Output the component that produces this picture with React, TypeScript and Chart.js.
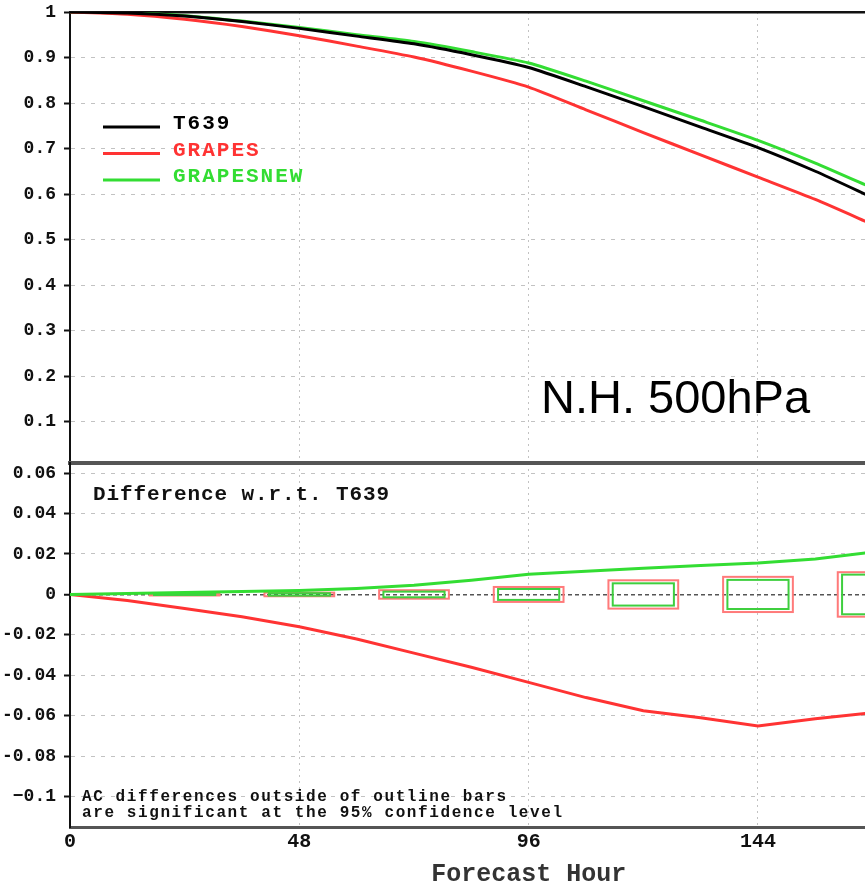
import { useEffect, useRef } from 'react';
import { Chart, registerables } from 'chart.js';

Chart.register(...registerables);

// Forecast lead times (hours)
const hours = [0, 12, 24, 36, 48, 60, 72, 84, 96, 108, 120, 132, 144, 156, 168];

// Anomaly correlation, N.H. 500hPa height
const acT639 = [1.0, 0.998, 0.991, 0.979, 0.964, 0.947, 0.93, 0.906, 0.878, 0.836, 0.792, 0.747, 0.702, 0.65, 0.592];
const acGrapes = [1.0, 0.995, 0.984, 0.968, 0.948, 0.925, 0.901, 0.87, 0.835, 0.785, 0.735, 0.686, 0.637, 0.588, 0.533];
const acGrapesNew = [1.0, 0.998, 0.992, 0.98, 0.966, 0.95, 0.935, 0.913, 0.888, 0.848, 0.805, 0.762, 0.718, 0.668, 0.613];

// Difference with respect to T639
const diffGrapes = [0, -0.003, -0.007, -0.011, -0.016, -0.022, -0.029, -0.036, -0.0435, -0.051, -0.0575, -0.061, -0.065, -0.0615, -0.0585];
const diffGrapesNew = [0, 0.0005, 0.001, 0.0015, 0.002, 0.003, 0.0045, 0.007, 0.01, 0.0115, 0.013, 0.0143, 0.0155, 0.0175, 0.021];

// 95% significance half-ranges (outline bars)
const sigHours = [24, 48, 72, 96, 120, 144, 168];
const sigGrapes = [0.0005, 0.0009, 0.0021, 0.0037, 0.007, 0.0087, 0.011];
const sigGrapesNew = [0.0003, 0.0006, 0.0014, 0.0027, 0.0055, 0.0072, 0.0098];

// Axis ticks
const hourTicks = [0, 48, 96, 144];
const acTicks = [0.1, 0.2, 0.3, 0.4, 0.5, 0.6, 0.7, 0.8, 0.9, 1];
const acTickLabels = ['0.1', '0.2', '0.3', '0.4', '0.5', '0.6', '0.7', '0.8', '0.9', '1'];
const diffTicks = [-0.1, -0.08, -0.06, -0.04, -0.02, 0, 0.02, 0.04, 0.06];
const diffTickLabels = ['\u22120.1', '-0.08', '-0.06', '-0.04', '-0.02', '0', '0.02', '0.04', '0.06'];

const seriesNames = ['T639', 'GRAPES', 'GRAPESNEW'];
const regionLabel = 'N.H. 500hPa';
const diffLabel = 'Difference w.r.t. T639';
const noteLines = ['AC differences outside of outline bars', 'are significant at the 95% confidence level'];
const xTitle = 'Forecast Hour';

const BLACK = '#000000';
const RED = '#ff3333';
const GREEN = '#33dd33';
const MONO = '"Liberation Mono", "DejaVu Sans Mono", monospace';

const X_MAX = 166.4;
const GRID = '#c2c2c2';

const pts = (ys: number[]) => ys.map((y, i) => ({ x: hours[i], y }));

const lineDs = (label: string, data: number[], color: string, tension: number) => ({
  label,
  data: pts(data),
  borderColor: color,
  backgroundColor: color,
  borderWidth: 3,
  pointRadius: 0,
  tension,
  fill: false,
});

const fixedWidth = (w: number) => (scale: any) => {
  scale.width = w;
};
const fixedHeight = (h: number) => (scale: any) => {
  scale.height = h;
};
const setTicks = (vals: number[]) => (scale: any) => {
  scale.ticks = vals.map((v) => ({ value: v }));
};
const labelFor = (vals: number[], labels: string[]) => (value: any) => {
  const i = vals.findIndex((v) => Math.abs(v - value) < 1e-9);
  return i >= 0 ? labels[i] : '';
};

const vGridColor = (ctx: any) => (ctx.tick && ctx.tick.value === 0 ? 'rgba(0,0,0,0)' : GRID);

// Legend, region label
const acTextPlugin = {
  id: 'acText',
  afterDatasetsDraw(chart: any) {
    const { ctx, chartArea: a } = chart;
    ctx.save();
    chart.data.datasets.forEach((ds: any, i: number) => {
      const y = a.top + 115 + i * 26.5;
      ctx.strokeStyle = ds.borderColor;
      ctx.lineWidth = 3;
      ctx.beginPath();
      ctx.moveTo(a.left + 33, y);
      ctx.lineTo(a.left + 90, y);
      ctx.stroke();
      ctx.fillStyle = ds.borderColor;
      ctx.font = `bold 21px ${MONO}`;
      ctx.letterSpacing = '2px';
      ctx.textAlign = 'left';
      ctx.textBaseline = 'middle';
      ctx.fillText(ds.label, a.left + 103, y - 3);
    });
    ctx.letterSpacing = '0px';
    ctx.fillStyle = '#000';
    ctx.font = '47px "Liberation Sans", Arial, sans-serif';
    ctx.textAlign = 'left';
    ctx.textBaseline = 'alphabetic';
    ctx.fillText(regionLabel, a.left + 471, a.top + 401);
    ctx.restore();
  },
};

// Significance outline bars
const sigBoxPlugin = {
  id: 'sigBoxes',
  beforeDatasetsDraw(chart: any) {
    const { ctx, chartArea: a, scales } = chart;
    const x = scales.x;
    const y = scales.y;
    ctx.save();
    ctx.beginPath();
    ctx.rect(a.left, a.top, a.right - a.left, a.bottom - a.top);
    ctx.clip();
    ctx.lineWidth = 2;
    sigHours.forEach((h, i) => {
      const rx0 = x.getPixelForValue(h - 7.3);
      const rx1 = x.getPixelForValue(h + 7.3);
      const ry0 = y.getPixelForValue(sigGrapes[i]);
      const ry1 = y.getPixelForValue(-sigGrapes[i]);
      ctx.strokeStyle = '#ff7a7a';
      ctx.strokeRect(rx0, ry0, rx1 - rx0, ry1 - ry0);
      const gx0 = x.getPixelForValue(h - 6.4);
      const gx1 = x.getPixelForValue(h + 6.4);
      const gy0 = y.getPixelForValue(sigGrapesNew[i]);
      const gy1 = y.getPixelForValue(-sigGrapesNew[i]);
      ctx.strokeStyle = '#3fcf3f';
      ctx.strokeRect(gx0, gy0, gx1 - gx0, gy1 - gy0);
    });
    ctx.restore();
  },
  afterDatasetsDraw(chart: any) {
    const { ctx, chartArea: a, scales } = chart;
    ctx.save();
    ctx.fillStyle = '#111';
    ctx.textAlign = 'left';
    ctx.textBaseline = 'middle';
    ctx.font = `bold 21px ${MONO}`;
    ctx.letterSpacing = '0.9px';
    ctx.fillText(diffLabel, a.left + 23, a.top + 32);
    ctx.font = `bold 16px ${MONO}`;
    ctx.letterSpacing = '1.6px';
    ctx.fillText(noteLines[0], a.left + 12, a.bottom - 30);
    ctx.fillText(noteLines[1], a.left + 12, a.bottom - 14);
    ctx.font = `bold 25px ${MONO}`;
    ctx.letterSpacing = '0px';
    ctx.fillStyle = '#333';
    ctx.textAlign = 'center';
    // centred on the middle of the 0-192 h forecast range
    ctx.fillText(xTitle, scales.x.getPixelForValue(96), a.bottom + 48);
    ctx.restore();
  },
};

function topConfig(): any {
  return {
    type: 'line',
    data: {
      datasets: [
        lineDs(seriesNames[0], acT639, BLACK, 0.2),
        lineDs(seriesNames[1], acGrapes, RED, 0.2),
        lineDs(seriesNames[2], acGrapesNew, GREEN, 0.2),
      ],
    },
    options: {
      responsive: false,
      animation: false,
      devicePixelRatio: 1,
      layout: { padding: { top: 42, bottom: 33, left: 0, right: 0 } },
      plugins: { legend: { display: false }, tooltip: { enabled: false } },
      scales: {
        x: {
          type: 'linear',
          position: 'bottom',
          min: 0,
          max: X_MAX,
          afterBuildTicks: setTicks(hourTicks),
          afterFit: fixedHeight(0),
          ticks: { display: false },
          grid: { color: vGridColor, lineWidth: 1, drawTicks: false },
          border: { display: false, dash: [2, 4] },
        },
        xTop: {
          type: 'linear',
          position: 'top',
          min: 0,
          max: X_MAX,
          afterFit: fixedHeight(0),
          ticks: { display: false },
          grid: { display: false },
          border: { display: true, color: '#111', width: 2.5 },
        },
        y: {
          type: 'linear',
          min: 0,
          max: 1,
          afterBuildTicks: setTicks(acTicks),
          afterFit: fixedWidth(70),
          ticks: {
            callback: labelFor(acTicks, acTickLabels),
            color: '#111',
            font: { family: MONO, size: 18, weight: 'bold' },
            padding: 8,
            autoSkip: false,
          },
          grid: { color: GRID, lineWidth: 1, tickLength: 6, tickColor: '#111', tickWidth: 2 },
          border: { display: true, color: '#111', width: 2, dash: [4, 6] },
        },
      },
    },
    plugins: [acTextPlugin],
  };
}

function bottomConfig(): any {
  return {
    type: 'line',
    data: {
      datasets: [
        lineDs(seriesNames[2], diffGrapesNew, GREEN, 0),
        lineDs(seriesNames[1], diffGrapes, RED, 0),
      ],
    },
    options: {
      responsive: false,
      animation: false,
      devicePixelRatio: 1,
      layout: { padding: { top: 33, bottom: 0, left: 0, right: 0 } },
      plugins: { legend: { display: false }, tooltip: { enabled: false } },
      scales: {
        x: {
          type: 'linear',
          position: 'bottom',
          min: 0,
          max: X_MAX,
          afterBuildTicks: setTicks(hourTicks),
          afterFit: fixedHeight(58),
          ticks: {
            color: '#111',
            font: { family: MONO, size: 20, weight: 'bold' },
            padding: 3,
            maxRotation: 0,
            autoSkip: false,
          },
          grid: { color: vGridColor, lineWidth: 1, drawTicks: false },
          border: { display: true, color: '#555', width: 3, dash: [2, 4] },
        },
        xTop: {
          type: 'linear',
          position: 'top',
          min: 0,
          max: X_MAX,
          afterFit: fixedHeight(0),
          ticks: { display: false },
          grid: { display: false },
          border: { display: true, color: '#555', width: 4 },
        },
        y: {
          type: 'linear',
          min: -0.115,
          max: 0.065,
          afterBuildTicks: setTicks(diffTicks),
          afterFit: fixedWidth(70),
          ticks: {
            callback: labelFor(diffTicks, diffTickLabels),
            color: '#111',
            font: { family: MONO, size: 18, weight: 'bold' },
            padding: 8,
            autoSkip: false,
          },
          grid: {
            color: (ctx: any) => (ctx.tick && ctx.tick.value === 0 ? '#555' : GRID),
            lineWidth: (ctx: any) => (ctx.tick && ctx.tick.value === 0 ? 1.5 : 1),
            tickLength: 6,
            tickColor: '#111',
            tickWidth: 2,
          },
          border: {
            display: true,
            color: '#111',
            width: 2,
            dash: (ctx: any) => (ctx.tick && ctx.tick.value === 0 ? [4, 3] : [4, 6]),
          },
        },
      },
    },
    plugins: [sigBoxPlugin],
  };
}

export default function App() {
  const topRef = useRef<HTMLCanvasElement>(null);
  const bottomRef = useRef<HTMLCanvasElement>(null);

  useEffect(() => {
    const top = new Chart(topRef.current as HTMLCanvasElement, topConfig());
    const bottom = new Chart(bottomRef.current as HTMLCanvasElement, bottomConfig());
    return () => {
      top.destroy();
      bottom.destroy();
    };
  }, []);

  return (
    <div
      style={{
        position: 'fixed',
        left: 0,
        top: 0,
        width: 865,
        height: 885,
        overflow: 'hidden',
        background: '#fff',
      }}
    >
      <canvas
        ref={topRef}
        width={865}
        height={530}
        style={{ position: 'absolute', left: 0, top: -30, width: 865, height: 530, display: 'block' }}
      />
      <canvas
        ref={bottomRef}
        width={865}
        height={455}
        style={{ position: 'absolute', left: 0, top: 430, width: 865, height: 455, display: 'block' }}
      />
    </div>
  );
}
